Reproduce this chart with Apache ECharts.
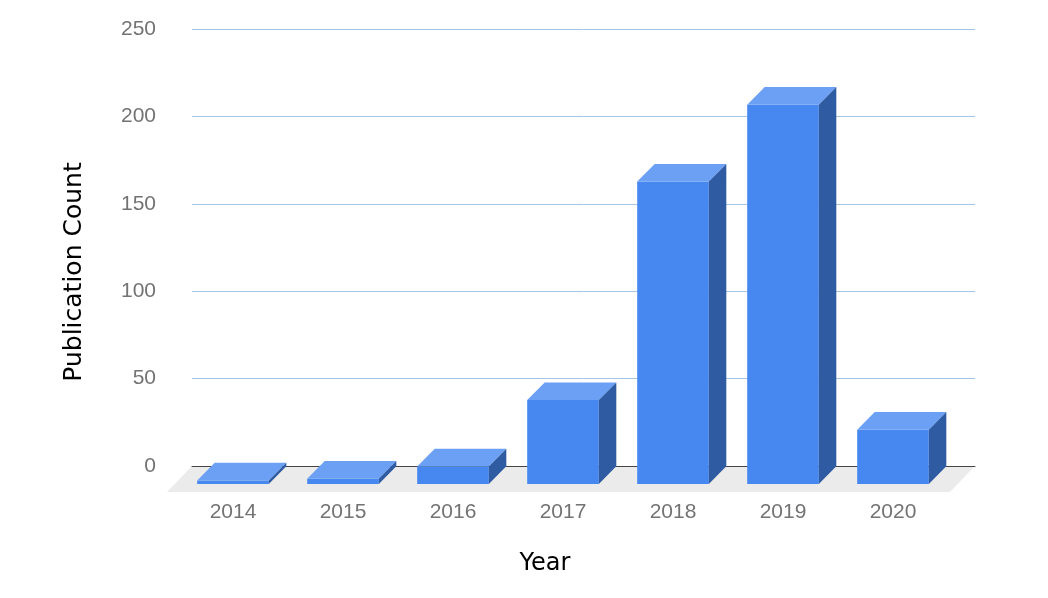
<!DOCTYPE html>
<html>
<head>
<meta charset="utf-8">
<script src="https://cdn.jsdelivr.net/npm/echarts@6/dist/echarts.min.js"></script>
<style>
html,body{margin:0;padding:0;background:#fff;}
#chart{width:1048px;height:598px;}
</style>
</head>
<body>
<div id="chart"></div>
<script>
const years = ['2014', '2015', '2016', '2017', '2018', '2019', '2020'];
const counts = [2, 3, 10, 48, 173, 217, 31];
const yMin = 0, yMax = 250, yStep = 50;
const xTitle = 'Year';
const yTitle = 'Publication Count';

const chart = echarts.init(document.getElementById('chart'), null, {renderer: 'canvas'});

const DX = 17.5, DY = -17.7;

function renderBar(params, api) {
  const i = api.value(0), v = api.value(1);
  const top = api.coord([i, v]);
  const base = api.coord([i, 0]);
  const band = api.size([1, 0])[0];
  const w = band * 0.651;
  const x0 = top[0] - w / 2, x1 = top[0] + w / 2;
  const yT = top[1], yB = base[1];
  return {
    type: 'group',
    children: [
      {type: 'rect', shape: {x: x0, y: yT, width: w, height: yB - yT}, style: {fill: '#4688f0'}},
      {type: 'polygon', shape: {points: [[x0, yT], [x0 + DX, yT + DY], [x1 + DX, yT + DY], [x1, yT]]}, style: {fill: '#6ba0f4'}},
      {type: 'polygon', shape: {points: [[x1, yT], [x1 + DX, yT + DY], [x1 + DX, yB + DY], [x1, yB]]}, style: {fill: '#2e5ba2'}}
    ]
  };
}

function renderFloor(params, api) {
  const cs = params.coordSys;
  const yb = cs.y + cs.height;
  const fx = -25, fy = 26;
  return {
    type: 'polygon',
    shape: {points: [[cs.x, yb], [cs.x + cs.width, yb], [cs.x + cs.width + fx, yb + fy], [cs.x + fx, yb + fy]]},
    style: {fill: '#ebebeb'}
  };
}

const labelFont = {fontFamily: '"Liberation Sans", Arial, sans-serif', fontSize: 21, color: '#737373'};

chart.setOption({
  animation: false,
  grid: [
    {left: 192, right: 73, top: 29, height: 437, containLabel: false},
    {left: 178, right: 100, top: 47, height: 437, containLabel: false}
  ],
  xAxis: [
    {gridIndex: 0, type: 'category', data: years, axisLabel: {show: false}, axisTick: {show: false},
     axisLine: {show: true, lineStyle: {color: '#444', width: 1}}, splitLine: {show: false}},
    {gridIndex: 1, type: 'category', data: years, axisLine: {show: false}, axisTick: {show: false},
     axisLabel: Object.assign({margin: 18}, labelFont), splitLine: {show: false}}
  ],
  yAxis: [
    {gridIndex: 0, type: 'value', min: yMin, max: yMax, interval: yStep,
     axisLine: {show: false}, axisTick: {show: false},
     axisLabel: Object.assign({margin: 36}, labelFont),
     splitLine: {show: true, lineStyle: {color: '#a6c4e4', width: 1}}},
    {gridIndex: 1, type: 'value', min: yMin, max: yMax, interval: yStep, show: false}
  ],
  graphic: [
    {type: 'text', x: 545, y: 564, style: {text: xTitle, fontFamily: '"DejaVu Sans", sans-serif', fontSize: 24, fill: '#000', align: 'center', verticalAlign: 'middle'}},
    {type: 'text', x: 74, y: 272, rotation: Math.PI / 2, style: {text: yTitle, fontFamily: '"DejaVu Sans", sans-serif', fontSize: 25, fill: '#000', align: 'center', verticalAlign: 'middle'}}
  ],
  series: [
    {type: 'custom', xAxisIndex: 0, yAxisIndex: 0, z: -1, silent: true, renderItem: renderFloor, data: [[0, 0]]},
    {type: 'custom', xAxisIndex: 1, yAxisIndex: 1, z: 5, renderItem: renderBar,
     encode: {x: 0, y: 1}, data: counts.map((c, i) => [i, c])}
  ]
});
</script>
</body>
</html>
